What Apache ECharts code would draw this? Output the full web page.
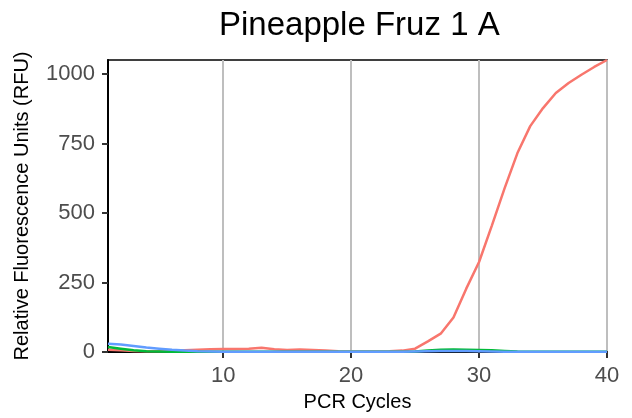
<!DOCTYPE html>
<html lang="en">
<head>
    <meta charset="UTF-8">
    <title>Pineapple Fruz 1 A</title>
    <script src="https://cdn.jsdelivr.net/npm/echarts@6/dist/echarts.min.js"></script>
    <style>
        * {
            margin: 0;
            padding: 0
        }

        html, body {
            width: 100%;
            height: 100%;
            background: #fff;
        }

        #main {
            width: 632px;
            height: 418px;
        }
    </style>
</head>
<body>
    <div id="main"></div>
</body>
<script type="text/javascript">
    // PCR cycles 1..40
    var cycles = [1, 2, 3, 4, 5, 6, 7, 8, 9, 10, 11, 12, 13, 14, 15, 16, 17, 18, 19, 20,
        21, 22, 23, 24, 25, 26, 27, 28, 29, 30, 31, 32, 33, 34, 35, 36, 37, 38, 39, 40];

    // RFU per well
    var redRfu = [8, 6, 4, 3, 3, 4, 6, 8, 10, 11, 11, 12, 15, 10, 7, 9, 7, 5, 3, 2,
        2, 2, 3, 5, 12, 38, 66, 124, 228, 324, 455, 590, 716, 813, 878, 932, 968, 998, 1026, 1051];
    var greenRfu = [18, 12, 6, 3, 2, 1, 1, 1, 1, 1, 1, 1, 1, 1, 1, 1, 1, 1, 1, 1,
        1, 1, 1, 1, 2, 5, 8, 9, 8, 7, 6, 4, 2, 1, 1, 1, 1, 1, 1, 1];
    var blueRfu = [30, 27, 22, 16, 12, 8, 5, 3, 2, 1, 1, 1, 1, 1, 1, 1, 1, 1, 1, 1,
        1, 1, 1, 1, 2, 3, 4, 4, 4, 3, 2, 1, 1, 1, 1, 1, 1, 1, 1, 1];

    var xTicks = [10, 20, 30, 40];
    var yTicks = [0, 250, 500, 750, 1000];

    var chart = echarts.init(document.getElementById('main'));

    function pairs(vals) {
        return cycles.map(function (c, i) { return [c, vals[i]]; });
    }

    function lineSeries(name, vals, color) {
        return {
            name: name,
            type: 'line',
            data: pairs(vals),
            showSymbol: false,
            symbol: 'none',
            lineStyle: {color: color, width: 2.5},
            itemStyle: {color: color}
        };
    }

    var font = 'Liberation Sans, Arial, sans-serif';

    chart.setOption({
        animation: false,
        title: {
            text: 'Pineapple Fruz 1 A',
            left: 214,
            top: 4,
            textStyle: {fontFamily: font, fontSize: 33, fontWeight: 'normal', color: '#000'}
        },
        grid: {
            left: 108,
            right: 25,
            top: 60,
            bottom: 66,
            show: true,
            borderColor: '#000',
            borderWidth: 1.5,
            backgroundColor: '#fff'
        },
        xAxis: {
            type: 'value',
            min: 1,
            max: 40,
            name: 'PCR Cycles',
            nameLocation: 'middle',
            nameGap: 40,
            nameTextStyle: {fontFamily: font, fontSize: 20, color: '#000'},
            axisLine: {lineStyle: {color: '#000', width: 2}},
            axisTick: {show: true, length: 6, customValues: xTicks, lineStyle: {color: '#333', width: 2}},
            axisLabel: {
                customValues: xTicks, margin: 13, fontFamily: font, fontSize: 22, color: '#4D4D4D',
                formatter: function (v) { return String(v); }
            },
            splitLine: {show: true, lineStyle: {color: '#BEBEBE', width: 2}}
        },
        yAxis: {
            type: 'value',
            min: 0,
            max: 1051,
            name: 'Relative Fluorescence Units (RFU)',
            nameLocation: 'middle',
            nameGap: 76,
            nameTextStyle: {fontFamily: font, fontSize: 20, color: '#000'},
            axisLine: {show: true, lineStyle: {color: '#000', width: 2}},
            axisTick: {show: true, length: 6, customValues: yTicks, lineStyle: {color: '#333', width: 2}},
            axisLabel: {
                customValues: yTicks, margin: 13, fontFamily: font, fontSize: 22, color: '#4D4D4D',
                formatter: function (v) { return String(v); }
            },
            splitLine: {show: false}
        },
        series: [
            lineSeries('A', redRfu, '#F8766D'),
            lineSeries('B', greenRfu, '#00BA38'),
            lineSeries('C', blueRfu, '#619CFF')
        ]
    });
</script>
</html>
